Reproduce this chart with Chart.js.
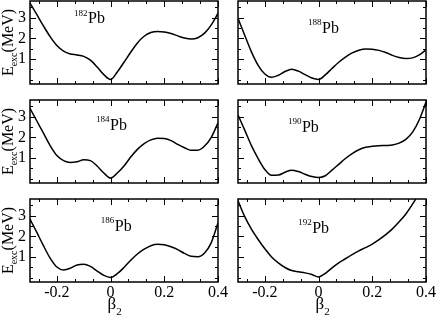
<!DOCTYPE html>
<html lang="en">
<head>
<meta charset="UTF-8">
<title>Pb excitation energy curves</title>
<script src="https://cdn.jsdelivr.net/npm/chart.js"></script>
<style>
  html, body { margin: 0; padding: 0; background: #fff; overflow: hidden; }
  #wrap { position: relative; width: 436px; height: 316px; }
  canvas { position: absolute; left: 0; top: 0; }
</style>
</head>
<body>
<div id="wrap"></div>
<script>
// deformation grid (beta_2)
const beta = [-0.300, -0.275, -0.250, -0.225, -0.200, -0.175, -0.150, -0.125, -0.100, -0.075,
              -0.050, -0.025, 0.000, 0.025, 0.050, 0.075, 0.100, 0.125, 0.150, 0.175,
              0.200, 0.225, 0.250, 0.275, 0.300, 0.325, 0.350, 0.375, 0.400];

// excitation energies (MeV)
const e182 = [3.70, 3.15, 2.60, 2.08, 1.65, 1.38, 1.25, 1.20, 1.13, 0.95,
              0.62, 0.25, 0.02, 0.38, 0.85, 1.33, 1.78, 2.10, 2.28, 2.33,
              2.31, 2.23, 2.12, 2.02, 1.97, 2.03, 2.25, 2.65, 3.20];
const e188 = [2.97, 2.15, 1.35, 0.70, 0.28, 0.12, 0.22, 0.40, 0.51, 0.42,
              0.25, 0.09, 0.02, 0.24, 0.55, 0.85, 1.10, 1.30, 1.43, 1.49,
              1.48, 1.42, 1.32, 1.18, 1.08, 1.03, 1.06, 1.20, 1.45];
const e184 = [3.40, 2.80, 2.20, 1.60, 1.12, 0.88, 0.79, 0.82, 0.92, 0.88,
              0.62, 0.28, 0.04, 0.28, 0.62, 1.05, 1.42, 1.70, 1.88, 1.96,
              1.94, 1.84, 1.66, 1.50, 1.38, 1.38, 1.58, 2.00, 2.70];
const e190 = [3.08, 2.35, 1.60, 0.98, 0.45, 0.17, 0.18, 0.32, 0.42, 0.35,
              0.22, 0.11, 0.06, 0.15, 0.42, 0.70, 0.98, 1.22, 1.40, 1.52,
              1.57, 1.60, 1.61, 1.63, 1.72, 1.90, 2.25, 2.85, 3.70];
const e186 = [2.83, 2.20, 1.55, 0.95, 0.52, 0.38, 0.46, 0.62, 0.66, 0.55,
              0.33, 0.12, 0.02, 0.20, 0.50, 0.85, 1.15, 1.38, 1.55, 1.62,
              1.60, 1.50, 1.36, 1.18, 1.04, 1.02, 1.20, 1.70, 2.65];
const e192 = [3.71, 2.95, 2.35, 1.85, 1.40, 1.01, 0.72, 0.50, 0.35, 0.29,
              0.24, 0.16, 0.04, 0.22, 0.48, 0.72, 0.92, 1.12, 1.30, 1.46,
              1.63, 1.84, 2.08, 2.36, 2.70, 3.08, 3.55, 4.10, 4.70];

// tick values
const xMajor = [-0.2, 0, 0.2, 0.4];
const xMinor = [-0.2667, -0.1333, -0.0667, 0.0667, 0.1333, 0.2667, 0.3333];
const yMajor = [1, 2, 3];
const yMinor = [0, 0.5, 1.5, 2.5, 3.5];

// panels: mass number, data, grid cell, label anchor (beta, E)
const panels = [
  { mass: '182', vals: e182, col: 0, row: 0, lx: -0.084, ly: 2.72 },
  { mass: '188', vals: e188, col: 1, row: 0, lx: 0.013,  ly: 2.27 },
  { mass: '184', vals: e184, col: 0, row: 1, lx: -0.002, ly: 2.36 },
  { mass: '190', vals: e190, col: 1, row: 1, lx: -0.062, ly: 2.28 },
  { mass: '186', vals: e186, col: 0, row: 2, lx: 0.016,  ly: 2.27 },
  { mass: '192', vals: e192, col: 1, row: 2, lx: -0.024, ly: 2.18 }
];

const W = 436, H = 316;
const colLeft = [30, 238], colRight = [218, 426];
const rowTop = [1, 100, 199], panelH = 83;
const FONT = '"Liberation Serif", "Times New Roman", serif';
const XAXIS_H = 30;

const framePlugin = {
  id: 'frame',
  afterDraw(chart) {
    const ctx = chart.ctx, a = chart.chartArea;
    const xs = chart.scales.x, ys = chart.scales.y;
    const p = chart.options.plugins.frame;
    ctx.save();
    ctx.strokeStyle = '#000';
    ctx.lineWidth = 1.5;
    ctx.strokeRect(a.left, a.top, a.right - a.left, a.bottom - a.top);

    ctx.lineWidth = 1;
    ctx.beginPath();
    const xt = (v, len) => {
      const px = Math.round(xs.getPixelForValue(v)) + 0.5;
      ctx.moveTo(px, a.bottom); ctx.lineTo(px, a.bottom - len);
      ctx.moveTo(px, a.top); ctx.lineTo(px, a.top + len);
    };
    const yt = (v, len) => {
      const py = Math.round(ys.getPixelForValue(v)) + 0.5;
      ctx.moveTo(a.left, py); ctx.lineTo(a.left + len, py);
      ctx.moveTo(a.right, py); ctx.lineTo(a.right - len, py);
    };
    xMajor.forEach(v => xt(v, 6));
    xMinor.forEach(v => xt(v, 3));
    yMajor.forEach(v => yt(v, 6));
    yMinor.forEach(v => yt(v, 3));
    ctx.stroke();

    ctx.fillStyle = '#000';
    ctx.textBaseline = 'alphabetic';
    // isotope label
    const lx = xs.getPixelForValue(p.lx), ly = ys.getPixelForValue(p.ly);
    ctx.font = '16px ' + FONT;
    ctx.textAlign = 'left';
    ctx.fillText('Pb', lx, ly);
    ctx.font = '9px ' + FONT;
    ctx.textAlign = 'right';
    ctx.fillText(p.mass, lx - 0.5, ly - 7.5);

    // y title
    if (p.yTitle) {
      ctx.save();
      ctx.translate(13, (a.top + a.bottom) / 2);
      ctx.rotate(-Math.PI / 2);
      ctx.textAlign = 'left';
      ctx.font = '16px ' + FONT;
      const wE = ctx.measureText('E').width;
      const wM = ctx.measureText('(MeV)').width;
      ctx.font = '10px ' + FONT;
      const wS = ctx.measureText('exc').width;
      let x0 = -(wE + wS + wM) / 2;
      ctx.font = '16px ' + FONT;
      ctx.fillText('E', x0, 0);
      ctx.font = '10px ' + FONT;
      ctx.fillText('exc', x0 + wE, 3.5);
      ctx.font = '16px ' + FONT;
      ctx.fillText('(MeV)', x0 + wE + wS, 0);
      ctx.restore();
    }
    // x title
    if (p.xTitle) {
      const bx = xs.getPixelForValue(0) - 3;
      ctx.textAlign = 'left';
      ctx.font = '17px ' + FONT;
      ctx.fillText('\u03b2', bx, 309);
      const wb = ctx.measureText('\u03b2').width;
      ctx.font = '11px ' + FONT;
      ctx.fillText('2', bx + wb, 315);
    }
    ctx.restore();
  }
};

const wrap = document.getElementById('wrap');
panels.forEach(p => {
  const cv = document.createElement('canvas');
  cv.width = W; cv.height = H;
  cv.style.width = W + 'px'; cv.style.height = H + 'px';
  wrap.appendChild(cv);

  const showY = p.col === 0;
  const showX = p.row === 2;
  const top = rowTop[p.row], bottom = top + panelH;
  const pad = {
    left: showY ? 0 : colLeft[p.col],
    right: W - colRight[p.col],
    top: top,
    bottom: H - bottom - (showX ? XAXIS_H : 0)
  };

  new Chart(cv, {
    type: 'line',
    data: {
      datasets: [{
        data: beta.map((b, i) => ({ x: b, y: p.vals[i] })),
        borderColor: '#000',
        borderWidth: 1.5,
        pointRadius: 0,
        cubicInterpolationMode: 'monotone',
        fill: false
      }]
    },
    options: {
      responsive: false,
      animation: false,
      events: [],
      layout: { padding: pad },
      plugins: {
        legend: { display: false },
        tooltip: { enabled: false },
        frame: { mass: p.mass, lx: p.lx, ly: p.ly, yTitle: showY, xTitle: showX }
      },
      scales: {
        x: {
          type: 'linear',
          min: -0.3, max: 0.4,
          display: showX,
          grid: { display: false, drawTicks: false },
          border: { display: false },
          ticks: {
            color: '#000',
            font: { family: FONT, size: 16 },
            padding: 1,
            maxRotation: 0,
            autoSkip: false,
            callback: v => String(Math.round(v * 10) / 10)
          },
          afterBuildTicks: s => { s.ticks = xMajor.map(v => ({ value: v })); },
          afterFit: s => { s.height = showX ? XAXIS_H : 0; s.paddingLeft = 0; s.paddingRight = 0; }
        },
        y: {
          type: 'linear',
          min: -0.2, max: 3.8,
          display: showY,
          grid: { display: false, drawTicks: false },
          border: { display: false },
          ticks: {
            color: '#000',
            font: { family: FONT, size: 16 },
            padding: 4,
            autoSkip: false,
            callback: v => String(v)
          },
          afterBuildTicks: s => { s.ticks = yMajor.map(v => ({ value: v })); },
          afterFit: s => { s.width = showY ? 30 : 0; s.paddingTop = 0; s.paddingBottom = 0; }
        }
      }
    },
    plugins: [framePlugin]
  });
});
</script>
</body>
</html>
